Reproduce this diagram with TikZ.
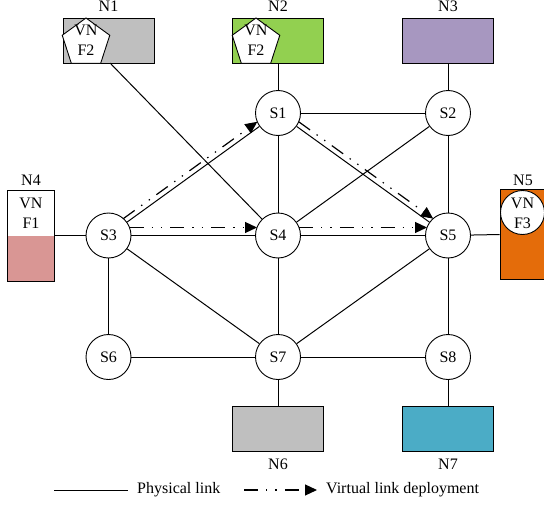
\documentclass[tikz,border=0pt]{standalone}
\usepackage{fontspec}
\setmainfont{Liberation Serif}
\usetikzlibrary{arrows.meta,calc,shapes.geometric}
\definecolor{grayN}{HTML}{BFBFBF}
\definecolor{greenN}{HTML}{92D050}
\definecolor{purpleN}{HTML}{A797C0}
\definecolor{pinkN}{HTML}{D99694}
\definecolor{orangeN}{HTML}{E46C0A}
\definecolor{tealN}{HTML}{4BACC6}
\begin{document}
\begin{tikzpicture}[x=1pt,y=-1pt,
  font=\fontsize{16}{18}\selectfont,
  sw/.style={circle,draw,fill=white,minimum size=45pt,inner sep=0pt,line width=0.9pt},
  host/.style={draw,minimum width=91pt,minimum height=45pt,inner sep=0pt,line width=0.9pt},
  vhost/.style={minimum width=46pt,minimum height=90pt,inner sep=0pt,line width=0.9pt},
  penta/.style={regular polygon,regular polygon sides=5,draw,fill=white,minimum size=50pt,inner sep=0pt,line width=0.9pt},
  vcirc/.style={circle,draw,fill=white,minimum size=44pt,inner sep=0pt,line width=0.9pt},
  lbl/.style={inner sep=0pt,anchor=base},
  plink/.style={line width=1pt},
  vlink/.style={line width=1.2pt,dash pattern=on 14pt off 8pt on 1.4pt off 8pt on 1.4pt off 8pt,
    -{Triangle[length=12pt,width=11pt]}}]
\useasboundingbox (0,0) rectangle (544,506);

% hosts
\node[host,fill=grayN] (N1) at (108.5,40.5) {};
\node[lbl] (N1l) at (108.5,12) {N1};
\node[penta] (P1) at (86,43) {};
\node[lbl] (P1a) at (86,35) {VN};
\node[lbl] (P1b) at (86,55) {F2};

\node[host,fill=greenN] (N2) at (278,40.5) {};
\node[lbl] (N2l) at (278,12) {N2};
\node[penta] (P2) at (256,43) {};
\node[lbl] (P2a) at (256,35) {VN};
\node[lbl] (P2b) at (256,55) {F2};

\node[host,fill=purpleN] (N3) at (448,40.5) {};
\node[lbl] (N3l) at (448,12) {N3};

\node[vhost] (N4) at (31,235.5) {};
\fill[pinkN] (N4.west) rectangle (N4.south east);
\draw[line width=0.9pt] (N4.north west) rectangle (N4.south east);
\node[lbl] (N4l) at (31,185) {N4};
\node[lbl] (N4a) at (31,208) {VN};
\node[lbl] (N4b) at (31,228) {F1};

\node[vhost,draw,fill=orangeN] (N5) at (523,234.5) {};
\node[lbl] (N5l) at (523,185) {N5};
\node[vcirc] (C5) at (522.5,212.5) {};
\node[lbl] (N5a) at (522.5,208) {VN};
\node[lbl] (N5b) at (522.5,228) {F3};

\node[host,fill=grayN] (N6) at (278,428.5) {};
\node[lbl] (N6l) at (278,469) {N6};
\node[host,fill=tealN] (N7) at (448,428.5) {};
\node[lbl] (N7l) at (448,469) {N7};

% switches
\node[sw] (S1) at (278,113) {S1};
\node[sw] (S2) at (448,113) {S2};
\node[sw] (S3) at (108.5,235.5) {S3};
\node[sw] (S4) at (278,235.5) {S4};
\node[sw] (S5) at (448,235.5) {S5};
\node[sw] (S6) at (108.5,357) {S6};
\node[sw] (S7) at (278,357) {S7};
\node[sw] (S8) at (448,357) {S8};

\coordinate (N1p) at (110,63);

% physical links
\draw[plink] (N1p) -- (S4);
\draw[plink] (N2) -- (S1);
\draw[plink] (N3) -- (S2);
\draw[plink] (N4.east) -- (S3);
\draw[plink] (S5) -- (N5.west);
\draw[plink] (S7) -- (N6);
\draw[plink] (S8) -- (N7);
\draw[plink] (S1) -- (S2);
\draw[plink] (S1) -- (S4);
\draw[plink] (S1) -- (S5);
\draw[plink] (S1) -- (S3);
\draw[plink] (S2) -- (S4);
\draw[plink] (S2) -- (S5);
\draw[plink] (S3) -- (S4);
\draw[plink] (S4) -- (S5);
\draw[plink] (S3) -- (S6);
\draw[plink] (S3) -- (S7);
\draw[plink] (S4) -- (S7);
\draw[plink] (S5) -- (S7);
\draw[plink] (S5) -- (S8);
\draw[plink] (S6) -- (S7);
\draw[plink] (S7) -- (S8);

% virtual links
\draw[vlink,shorten <=21.9pt,shorten >=21.9pt] ($(S3)!5pt!90:(S1)$) -- ($(S1)!5pt!-90:(S3)$);
\draw[vlink,shorten <=21pt,shorten >=21pt] ($(S3)!8pt!90:(S4)$) -- ($(S4)!8pt!-90:(S3)$);
\draw[vlink,shorten <=21.9pt,shorten >=21.9pt] ($(S1)!5pt!90:(S5)$) -- ($(S5)!5pt!-90:(S1)$);
\draw[vlink,shorten <=21pt,shorten >=21pt] ($(S4)!8pt!90:(S5)$) -- ($(S5)!8pt!-90:(S4)$);

% legend
\coordinate (La) at (54,490);
\coordinate (Lb) at (128,490);
\draw[plink] (La) -- (Lb);
\node[inner sep=0pt,anchor=west] (Lt1) at (137,490) {Physical link};
\coordinate (Lc) at (244,490);
\coordinate (Ld) at (317,490);
\draw[vlink] (Lc) -- (Ld);
\node[inner sep=0pt,anchor=west] (Lt2) at (326,490) {Virtual link deployment};
\end{tikzpicture}
\end{document}
